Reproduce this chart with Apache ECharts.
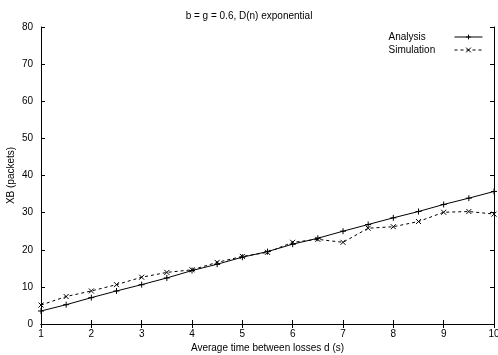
<!DOCTYPE html>
<html>
<head>
<meta charset="utf-8">
<script src="https://cdn.jsdelivr.net/npm/echarts@6/dist/echarts.min.js"></script>
<style>
  html, body { margin: 0; padding: 0; background: #fff; }
  #chart { width: 498px; height: 355px; }
</style>
</head>
<body>
<div id="chart"></div>
<script>
// Average time between losses d (s)
const dValues = [1, 1.5, 2, 2.5, 3, 3.5, 4, 4.5, 5, 5.5, 6, 6.5, 7, 7.5, 8, 8.5, 9, 9.5, 10];
// XB (packets), analytical model
const analysis = [3.5, 5.2, 7.1, 8.9, 10.6, 12.4, 14.4, 16.1, 18.0, 19.5, 21.5, 23.1, 25.0, 26.8, 28.6, 30.3, 32.2, 33.9, 35.7];
// XB (packets), simulation
const simulation = [5.1, 7.4, 8.9, 10.6, 12.6, 13.9, 14.6, 16.6, 18.2, 19.3, 22.0, 22.8, 22.0, 25.8, 26.2, 27.6, 30.1, 30.3, 29.6];

const FONT = 'Liberation Sans';
const plusSymbol = 'path://M0,5L10,5M5,0L5,10';
const crossSymbol = 'path://M0,0L10,10M10,0L0,10';

const pairs = (xs, ys) => xs.map((x, i) => [x, ys[i]]);

const chart = echarts.init(document.getElementById('chart'), null, { renderer: 'canvas' });

const axisCommon = {
  axisLine: { show: true, lineStyle: { color: '#000', width: 1 } },
  axisTick: { show: true, inside: true, length: 4, lineStyle: { color: '#000', width: 1 } },
  splitLine: { show: false }
};

chart.setOption({
  animation: false,
  backgroundColor: '#fff',
  title: {
    text: 'b = g = 0.6, D(n) exponential',
    left: 'center',
    top: 6,
    textStyle: { fontFamily: FONT, fontSize: 10, fontWeight: 'normal', color: '#000' }
  },
  legend: {
    orient: 'vertical',
    right: 15,
    top: 32,
    padding: 0,
    align: 'right',
    itemWidth: 28,
    itemHeight: 6,
    itemGap: 3,
    lineStyle: { width: 1 },
    itemStyle: { borderWidth: 1 },
    formatter: name => '{t|' + name + '}',
    textStyle: {
      fontFamily: FONT, fontSize: 10, color: '#000',
      rich: { t: { width: 61, align: 'left', fontFamily: FONT, fontSize: 10, color: '#000', lineHeight: 10 } }
    },
    data: ['Analysis', 'Simulation']
  },
  grid: { left: 41, right: 4, top: 27, bottom: 31, containLabel: false, outerBoundsMode: 'none' },
  xAxis: [
    Object.assign({}, axisCommon, {
      type: 'value', min: 1, max: 10, interval: 1, position: 'bottom',
      name: 'Average time between losses d (s)',
      nameLocation: 'middle', nameGap: 19, nameMoveOverlap: false,
      nameTextStyle: { fontFamily: FONT, fontSize: 10, color: '#000' },
      axisLabel: { margin: 5, fontFamily: FONT, fontSize: 10, color: '#000' }
    }),
    Object.assign({}, axisCommon, {
      type: 'value', min: 1, max: 10, interval: 1, position: 'top',
      axisLabel: { show: false }
    })
  ],
  yAxis: [
    Object.assign({}, axisCommon, {
      type: 'value', min: 0, max: 80, interval: 10, position: 'left',
      name: 'XB (packets)',
      nameLocation: 'middle', nameGap: 25, nameRotate: 90, nameMoveOverlap: false,
      nameTextStyle: { fontFamily: FONT, fontSize: 10, color: '#000' },
      axisLabel: { margin: 8, fontFamily: FONT, fontSize: 10, color: '#000' }
    }),
    Object.assign({}, axisCommon, {
      type: 'value', min: 0, max: 80, interval: 10, position: 'right',
      axisLabel: { show: false }
    })
  ],
  series: [
    {
      name: 'Analysis',
      type: 'line',
      data: pairs(dValues, analysis),
      symbol: plusSymbol,
      symbolSize: 6,
      showAllSymbol: true,
      lineStyle: { color: '#000', width: 1, type: 'solid' },
      itemStyle: { color: '#000', borderColor: '#000', borderWidth: 1 },
      z: 3
    },
    {
      name: 'Simulation',
      type: 'line',
      data: pairs(dValues, simulation),
      symbol: crossSymbol,
      symbolSize: 5,
      showAllSymbol: true,
      lineStyle: { color: '#000', width: 1, type: [3, 3] },
      itemStyle: { color: '#000', borderColor: '#000', borderWidth: 1 },
      z: 2
    }
  ]
});
</script>
</body>
</html>
